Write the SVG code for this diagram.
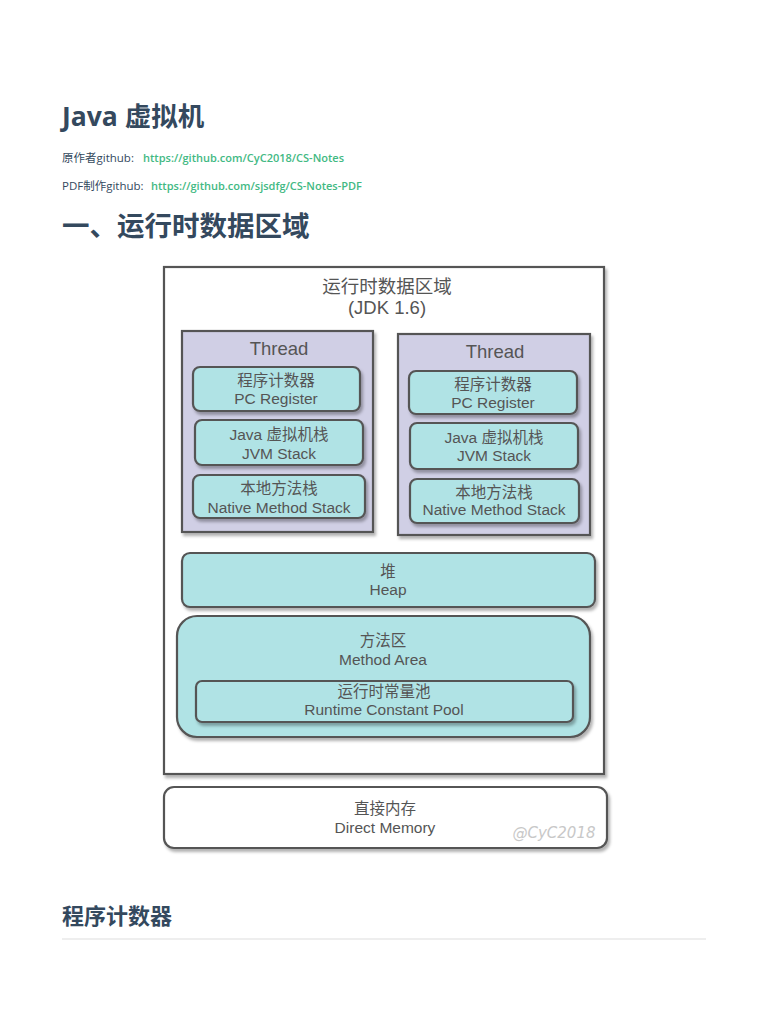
<svg xmlns="http://www.w3.org/2000/svg" width="768" height="1024" viewBox="0 0 768 1024">
<defs>
<filter id="sh" x="-5%" y="-5%" width="115%" height="125%">
<feDropShadow dx="2" dy="3" stdDeviation="1.5" flood-color="#000" flood-opacity="0.3"/>
</filter>
</defs>
<style>
.h{font-family:"Open Sans","Noto Sans CJK SC",sans-serif;font-weight:bold;fill:#34495e}
.p{font-family:"Open Sans","Noto Sans CJK SC",sans-serif;font-size:11.5px;fill:#34495e}
.a{font-family:"Open Sans","Noto Sans CJK SC",sans-serif;font-size:11px;fill:#42b983;font-weight:600}
.t{font-family:"Liberation Sans","Noto Sans CJK SC",sans-serif;font-size:15.5px;fill:#555;text-anchor:middle}
.big{font-size:18.5px}
.box{stroke:#555;stroke-width:2.2;filter:url(#sh)}
.teal{fill:#b0e3e5}
.thr{fill:#d0cfe5}
.wh{fill:#fff}
</style>
<rect width="768" height="1024" fill="#fff"/>
<text class="h" x="62" y="126" font-size="26.5">Java 虚拟机</text>
<text class="p" x="62" y="162">原作者github:</text>
<text class="a" x="143" y="162">https://github.com/CyC2018/CS-Notes</text>
<text class="p" x="62" y="190">PDF制作github:</text>
<text class="a" x="151" y="190">https://github.com/sjsdfg/CS-Notes-PDF</text>
<text class="h" x="62" y="236" font-size="27.5">一、运行时数据区域</text>

<g id="outer">
<rect class="box wh" x="164" y="267" width="440" height="507"/>
<text class="t big" x="387" y="293">运行时数据区域</text>
<text class="t big" x="387" y="314">(JDK 1.6)</text>
</g>
<g id="thread1">
<rect class="box thr" x="182" y="331" width="191" height="201"/>
<text class="t big" x="279" y="355">Thread</text>
</g>
<g id="pc1">
<rect class="box teal" x="193" y="367" width="167" height="44" rx="7"/>
<text class="t" x="276" y="386">程序计数器</text>
<text class="t" x="276" y="404">PC Register</text>
</g>
<g id="jvm1">
<rect class="box teal" x="195" y="420" width="168" height="45" rx="7"/>
<text class="t" x="279" y="440">Java 虚拟机栈</text>
<text class="t" x="279" y="459">JVM Stack</text>
</g>
<g id="native1">
<rect class="box teal" x="193" y="475" width="172" height="43" rx="7"/>
<text class="t" x="279" y="494">本地方法栈</text>
<text class="t" x="279" y="513">Native Method Stack</text>
</g>
<g id="thread2">
<rect class="box thr" x="398" y="334" width="192" height="201"/>
<text class="t big" x="495" y="358">Thread</text>
</g>
<g id="pc2">
<rect class="box teal" x="409" y="371" width="168" height="43" rx="7"/>
<text class="t" x="493" y="390">程序计数器</text>
<text class="t" x="493" y="408">PC Register</text>
</g>
<g id="jvm2">
<rect class="box teal" x="410" y="423" width="168" height="46" rx="7"/>
<text class="t" x="494" y="443">Java 虚拟机栈</text>
<text class="t" x="494" y="461">JVM Stack</text>
</g>
<g id="native2">
<rect class="box teal" x="410" y="479" width="169" height="44" rx="7"/>
<text class="t" x="494" y="498">本地方法栈</text>
<text class="t" x="494" y="515">Native Method Stack</text>
</g>
<g id="heap">
<rect class="box teal" x="182" y="553" width="413" height="54" rx="8"/>
<text class="t" x="388" y="577">堆</text>
<text class="t" x="388" y="595">Heap</text>
</g>
<g id="method">
<rect class="box teal" x="177" y="616" width="413" height="121" rx="20"/>
<text class="t" x="383" y="646">方法区</text>
<text class="t" x="383" y="665">Method Area</text>
</g>
<g id="pool">
<rect class="box teal" x="196" y="681" width="377" height="41" rx="6"/>
<text class="t" x="384" y="697">运行时常量池</text>
<text class="t" x="384" y="715">Runtime Constant Pool</text>
</g>
<g id="direct">
<rect class="box wh" x="164" y="787" width="443" height="61" rx="10"/>
<text class="t" x="385" y="814">直接内存</text>
<text class="t" x="385" y="833">Direct Memory</text>
<text x="554" y="838" font-family="DejaVu Sans, sans-serif" font-style="italic" font-size="15" fill="#c8c8c8" text-anchor="middle">@CyC2018</text>
</g>
<g id="connectors"></g>

<text class="h" x="62" y="924" font-size="22">程序计数器</text>
<line x1="62" y1="939" x2="706" y2="939" stroke="#ddd" stroke-width="1"/>
</svg>
